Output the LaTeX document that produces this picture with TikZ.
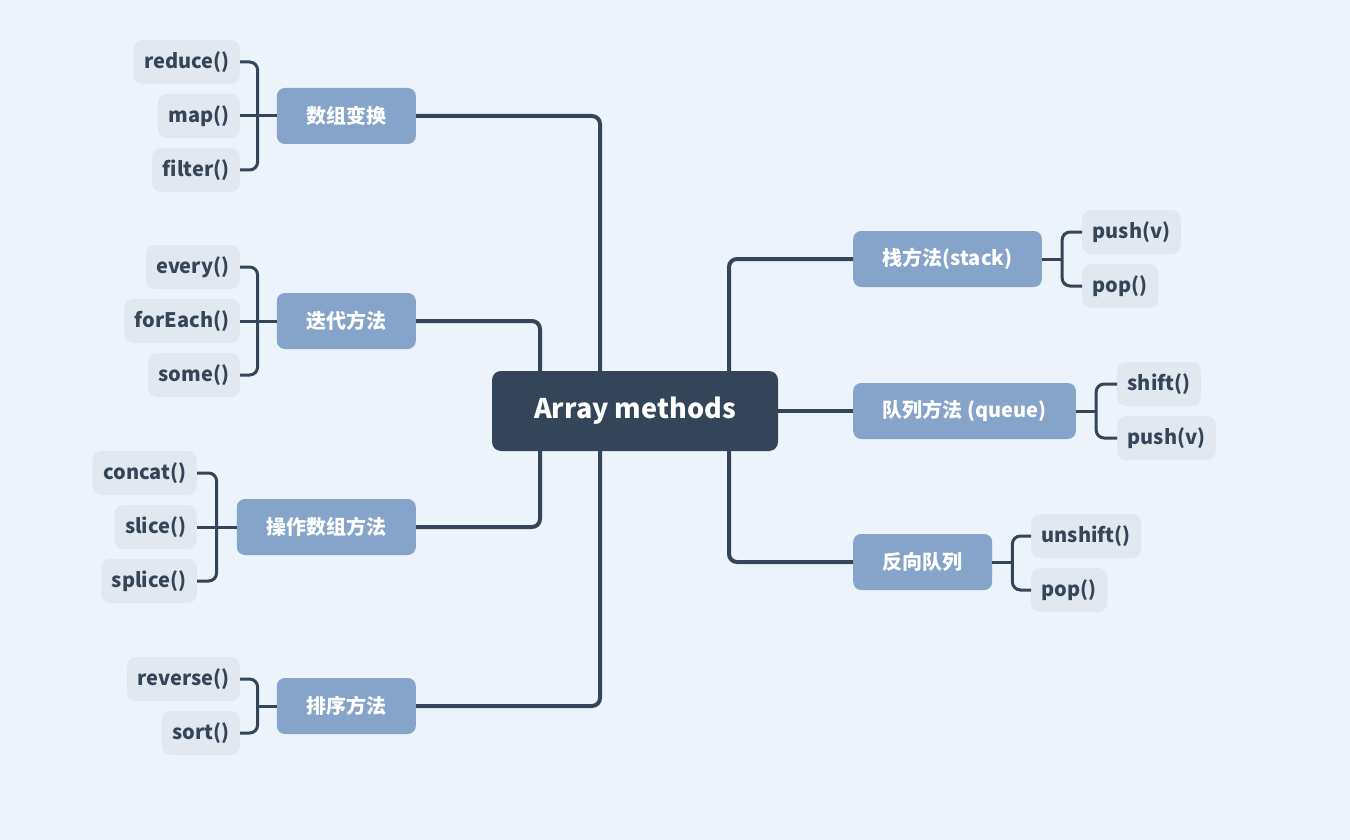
\documentclass[tikz,border=0pt]{standalone}
\usepackage{fontspec}
\setmainfont{Noto Sans CJK SC}
\usetikzlibrary{positioning}
\definecolor{bgcol}{HTML}{EDF3FA}
\definecolor{rootcol}{HTML}{344559}
\definecolor{topiccol}{HTML}{86A3C9}
\definecolor{leafcol}{HTML}{E2E8F0}

\begin{document}
\begin{tikzpicture}[x=1pt,y=-1pt,
  root/.style={fill=rootcol,text=white,rounded corners=9pt,minimum width=286pt,minimum height=80pt,
    font=\fontsize{27}{31}\selectfont\bfseries},
  topic/.style={fill=topiccol,text=white,rounded corners=8pt,minimum height=56pt,inner xsep=29.5pt,
    font=\fontsize{20}{24}\selectfont\bfseries},
  leaf/.style={fill=leafcol,text=rootcol,rounded corners=9pt,minimum height=44pt,inner xsep=10.5pt,
    font=\fontsize{20}{24}\selectfont\bfseries},
  trunk/.style={draw=rootcol,line width=4pt,rounded corners=8pt},
  twig/.style={draw=rootcol,line width=3pt,rounded corners=8pt}]
  \fill[bgcol] (0,0) rectangle (1350,840);
  \useasboundingbox (0,0) rectangle (1350,840);

  \node[root] (arr) at (635,411) {Array methods};

  % left topics
  \node[topic,anchor=east] (trans) at (416,116) {数组变换};
  \node[topic,anchor=east] (iter) at (416,321) {迭代方法};
  \node[topic,anchor=east] (oper) at (416,527) {操作数组方法};
  \node[topic,anchor=east] (sort) at (416,706) {排序方法};
  % right topics
  \node[topic,anchor=west] (stack) at (853,259) {栈方法(stack)};
  \node[topic,anchor=west] (queue) at (853,411) {队列方法 (queue)};
  \node[topic,anchor=west] (rqueue) at (853,562) {反向队列};

  % leaves
  \node[leaf,anchor=east] (reduce) at (240,62) {reduce()};
  \node[leaf,anchor=east] (map) at (240,116) {map()};
  \node[leaf,anchor=east] (filter) at (240,170) {filter()};
  \node[leaf,anchor=east] (every) at (240,267) {every()};
  \node[leaf,anchor=east] (foreach) at (240,321) {forEach()};
  \node[leaf,anchor=east] (some) at (240,375) {some()};
  \node[leaf,anchor=east] (concat) at (197,473) {concat()};
  \node[leaf,anchor=east] (slice) at (197,527) {slice()};
  \node[leaf,anchor=east] (splice) at (197,581) {splice()};
  \node[leaf,anchor=east] (reverse) at (240,679) {reverse()};
  \node[leaf,anchor=east] (sortm) at (240,733) {sort()};
  \node[leaf,anchor=west] (spush) at (1082,232) {push(v)};
  \node[leaf,anchor=west] (spop) at (1082,286) {pop()};
  \node[leaf,anchor=west] (qshift) at (1117,384) {shift()};
  \node[leaf,anchor=west] (qpush) at (1117,438) {push(v)};
  \node[leaf,anchor=west] (runshift) at (1031,536) {unshift()};
  \node[leaf,anchor=west] (rpop) at (1031,590) {pop()};

  % trunk lines
  \draw[trunk] ([xshift=-35pt]arr.north) |- (trans.east);
  \draw[trunk] ([xshift=-95pt]arr.north) |- (iter.east);
  \draw[trunk] ([xshift=-95pt]arr.south) |- (oper.east);
  \draw[trunk] ([xshift=-35pt]arr.south) |- (sort.east);
  \draw[trunk] ([xshift=94pt]arr.north) |- (stack.west);
  \draw[trunk] (arr.east) -- (queue.west);
  \draw[trunk] ([xshift=94pt]arr.south) |- (rqueue.west);

  % brackets
  \draw[twig] (reduce.east) -| ([xshift=-19pt]trans.west) |- (filter.east);
  \draw[twig] (trans.west) -- (map.east);
  \draw[twig] (every.east) -| ([xshift=-19pt]iter.west) |- (some.east);
  \draw[twig] (iter.west) -- (foreach.east);
  \draw[twig] (concat.east) -| ([xshift=-20pt]oper.west) |- (splice.east);
  \draw[twig] (oper.west) -- (slice.east);
  \draw[twig] (reverse.east) -| ([xshift=-19pt]sort.west) |- (sortm.east);
  \draw[twig] (sort.west) -- ([xshift=-19pt]sort.west);
  \draw[twig] (spush.west) -| ([xshift=20pt]stack.east) |- (spop.west);
  \draw[twig] (stack.east) -- ([xshift=20pt]stack.east);
  \draw[twig] (qshift.west) -| ([xshift=20pt]queue.east) |- (qpush.west);
  \draw[twig] (queue.east) -- ([xshift=20pt]queue.east);
  \draw[twig] (runshift.west) -| ([xshift=20pt]rqueue.east) |- (rpop.west);
  \draw[twig] (rqueue.east) -- ([xshift=20pt]rqueue.east);
\end{tikzpicture}
\end{document}
